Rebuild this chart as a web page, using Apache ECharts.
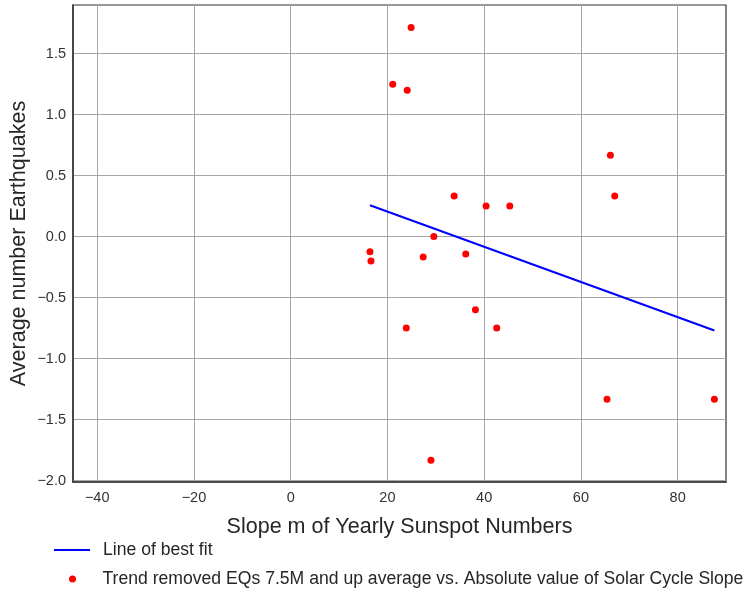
<!DOCTYPE html>
<html>
<head>
<meta charset="utf-8">
<script src="https://cdn.jsdelivr.net/npm/echarts@6/dist/echarts.min.js"></script>
<style>
html,body{margin:0;padding:0;background:#fff;}
#chart{width:745px;height:590px;}
</style>
</head>
<body>
<div id="chart"></div>
<script>
// Data
var slopeX = [24.9, 21.1, 24.1, 66.1, 33.8, 40.4, 45.3, 67.0, 29.6, 16.4, 16.6, 27.4, 36.2, 38.2, 23.9, 42.6, 65.4, 87.6, 29.0];
var quakeY = [1.714, 1.25, 1.20, 0.667, 0.333, 0.25, 0.25, 0.333, 0.0, -0.125, -0.20, -0.167, -0.143, -0.60, -0.75, -0.75, -1.333, -1.333, -1.833];
var fitX = [16.4, 87.6];
var fitY = [0.257, -0.770];
var xTicks = [-40, -20, 0, 20, 40, 60, 80];
var yTicks = [-2.0, -1.5, -1.0, -0.5, 0.0, 0.5, 1.0, 1.5];
var xTitle = 'Slope m of Yearly Sunspot Numbers';
var yTitle = 'Average number Earthquakes';
var lineName = 'Line of best fit';
var dotName = 'Trend removed EQs 7.5M and up average vs. Absolute value of Solar Cycle Slope';

var scatterData = slopeX.map(function (x, i) { return [x, quakeY[i]]; });
var fitData = fitX.map(function (x, i) { return [x, fitY[i]]; });

var FONT = '"Liberation Sans", Arial, sans-serif';
function legendText(padLeft) {
  return {fontSize: 17.6, lineHeight: 20, color: '#262626', fontFamily: FONT, padding: [0, 0, 0, padLeft]};
}
var chart = echarts.init(document.getElementById('chart'), null, {renderer: 'canvas'});
chart.setOption({
  animation: false,
  backgroundColor: '#ffffff',
  textStyle: {fontFamily: FONT},
  grid: {left: 73, right: 19, top: 5, bottom: 108, show: true, borderColor: '#333333', borderWidth: 1.2,
    containLabel: false, outerBoundsMode: 'none'},
  xAxis: {
    type: 'value', min: -45, max: 90,
    name: xTitle, nameLocation: 'middle', nameGap: 34, nameMoveOverlap: false,
    nameTextStyle: {fontSize: 21.5, color: '#262626', fontFamily: FONT},
    axisLine: {show: true, onZero: false, lineStyle: {color: '#333333', width: 1.5}},
    axisTick: {show: false, customValues: xTicks},
    axisLabel: {customValues: xTicks, fontSize: 14.5, color: '#333333', margin: 8, fontFamily: FONT,
      formatter: function (v) { return String(v).replace('-', '\u2212'); }},
    splitLine: {show: true, lineStyle: {color: '#a6a6a6', width: 1}}
  },
  yAxis: {
    type: 'value', min: -2.012, max: 1.899,
    name: yTitle, nameLocation: 'middle', nameGap: 43, nameRotate: 90, nameMoveOverlap: false,
    nameTextStyle: {fontSize: 21.5, color: '#262626', fontFamily: FONT},
    axisLine: {show: true, onZero: false, lineStyle: {color: '#333333', width: 1.5}},
    axisTick: {show: false, customValues: yTicks},
    axisLabel: {customValues: yTicks, fontSize: 14.5, color: '#333333', margin: 7, fontFamily: FONT,
      formatter: function (v) { return v.toFixed(1).replace('-', '\u2212'); }},
    splitLine: {show: true, lineStyle: {color: '#a6a6a6', width: 1}}
  },
  legend: [
    {
      left: 54, top: 540, padding: 0, itemWidth: 36, itemHeight: 2,
      textStyle: legendText(8),
      data: [{name: lineName, icon: 'rect', itemStyle: {color: '#0000ff'}}]
    },
    {
      left: 69, top: 569, padding: 0, itemWidth: 36, itemHeight: 7,
      textStyle: legendText(7),
      data: [{name: dotName, icon: 'circle'}]
    }
  ],
  series: [
    {
      name: lineName, type: 'line', data: fitData, showSymbol: false, symbol: 'none',
      lineStyle: {color: '#0000ff', width: 2}, itemStyle: {color: '#0000ff'}, z: 3
    },
    {
      name: dotName, type: 'scatter', data: scatterData, symbol: 'circle', symbolSize: 7,
      itemStyle: {color: '#ff0000', opacity: 1}, z: 4
    }
  ]
});
</script>
</body>
</html>
